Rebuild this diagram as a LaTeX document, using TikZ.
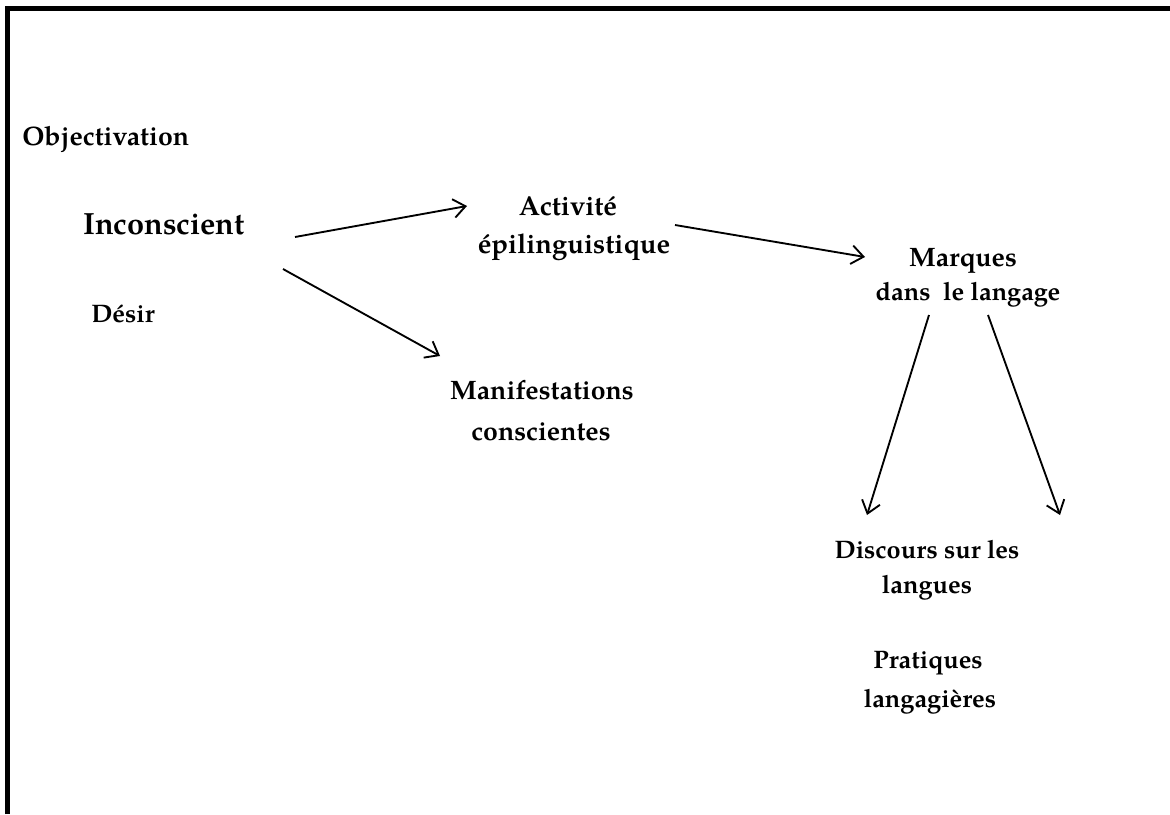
\documentclass[tikz,border=0pt]{standalone}
\usepackage{fontspec}
\setmainfont{TeX Gyre Pagella}
\usetikzlibrary{arrows.meta}
\begin{document}
\begin{tikzpicture}[x=0.75pt,y=-0.75pt,
  lbl/.style={font=\fontsize{19}{22}\selectfont\bfseries, inner sep=0pt, anchor=base},
  big/.style={font=\fontsize{20}{23}\selectfont\bfseries},
  lblw/.style={lbl, anchor=base west},
  arr/.style={line width=1.4pt, -{Straight Barb[length=9pt,width=14pt,line width=1.4pt]}},
  frame/.style={line width=3.8pt}]
\useasboundingbox (0,0) rectangle (1170,814);
% frame (top and left)
\coordinate (fa) at (7.5,814);
\coordinate (fb) at (7.5,8.5);
\coordinate (fc) at (1170,8.5);
\draw[frame] (fa) -- (fb) -- (fc);
% labels
\node[lblw,big] (obj) at (22,145) {Objectivation};
\node[lbl,font=\fontsize{23}{26}\selectfont\bfseries] (inc) at (164,234) {Inconscient};
\node[lbl] (des) at (123,322) {Désir};
\node[lbl,font=\fontsize{20.5}{23}\selectfont\bfseries] (act1) at (568,215) {Activité};
\node[lbl,font=\fontsize{20.5}{23}\selectfont\bfseries] (act2) at (574,253) {épilinguistique};
\node[lbl,big] (mar1) at (963,266) {Marques};
\node[lbl] (mar2) at (968,300) {dans\ \ le langage};
\node[lbl,big] (man1) at (542,399) {Manifestations};
\node[lbl,big] (man2) at (541,440) {conscientes};
\node[lbl] (dis1) at (927,558) {Discours sur les};
\node[lbl] (dis2) at (927,593) {langues};
\node[lbl] (pra1) at (928,668) {Pratiques};
\node[lbl] (pra2) at (930,707) {langagières};
% arrow end points
\coordinate (a1s) at (295,237);
\coordinate (a1e) at (467,206);
\coordinate (a2s) at (283,269);
\coordinate (a2e) at (440,356);
\coordinate (a3s) at (675,225);
\coordinate (a3e) at (865,257);
\coordinate (a4s) at (929,315);
\coordinate (a4e) at (867,515);
\coordinate (a5s) at (988,315);
\coordinate (a5e) at (1060,515);
\draw[arr] (a1s) -- (a1e);
\draw[arr] (a2s) -- (a2e);
\draw[arr] (a3s) -- (a3e);
\draw[arr] (a4s) -- (a4e);
\draw[arr] (a5s) -- (a5e);
\end{tikzpicture}
\end{document}
